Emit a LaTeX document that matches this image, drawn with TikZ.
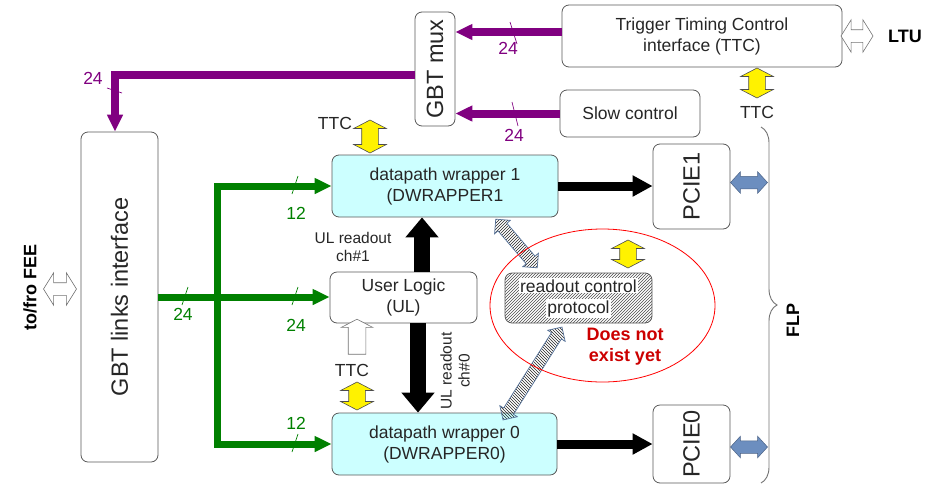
\documentclass[tikz,border=0pt]{standalone}
\usepackage{fontspec}
\usepackage{graphicx}
\setmainfont{Liberation Sans}
\usetikzlibrary{arrows.meta,shapes.arrows,patterns,decorations.pathreplacing}
\definecolor{gbtpurple}{RGB}{128,0,128}
\definecolor{gbtgreen}{RGB}{0,128,0}
\definecolor{wrapcyan}{RGB}{204,255,255}
\definecolor{pcieblue}{RGB}{108,142,191}
\definecolor{notred}{RGB}{204,0,0}
\setlength{\fboxsep}{1pt}

\begin{document}
\begin{tikzpicture}[x=1pt,y=-1pt,
  every node/.style={font=\fontsize{17.5}{21}\selectfont, text=black!85},
  box/.style={draw=black!65, rounded corners=7pt, line width=0.8pt, inner sep=0pt, align=center},
  wrapbox/.style={box, fill=wrapcyan},
  bigtext/.style={font=\fontsize{23.5}{27}\selectfont},
  smalltext/.style={font=\fontsize{15.5}{18}\selectfont, align=center},
  boldtext/.style={font=\fontsize{18}{21}\selectfont\bfseries, text=black},
  pbus/.style={draw=gbtpurple, line width=8pt, -{Triangle[length=17pt,width=15pt]}},
  gbus/.style={draw=gbtgreen, line width=7pt, -{Triangle[length=17pt,width=15pt]}},
  dbus/.style={draw=black, line width=9pt, -{Triangle[length=20pt,width=20pt]}},
  vbus/.style={draw=black, line width=16pt, -{Triangle[length=20pt,width=32pt]}},
  slash/.style={line width=0.7pt},
  yarrow/.style={double arrow, draw=black!70, fill=yellow, line width=0.6pt, rotate=90,
    inner xsep=0pt, inner ysep=8pt, double arrow head extend=8pt, double arrow tip angle=125, minimum width=0pt},
  oarrow/.style={double arrow, draw=black!55, fill=white, line width=0.6pt,
    inner xsep=0pt, inner ysep=6pt, double arrow head extend=10pt, double arrow tip angle=116, minimum width=0pt},
  barrow/.style={double arrow, draw=pcieblue!70!black, fill=pcieblue, line width=0.5pt,
    inner xsep=0pt, inner ysep=6pt, double arrow head extend=4.5pt, double arrow tip angle=95, minimum width=0pt},
  warrow/.style={single arrow, draw=black!55, fill=white, line width=0.6pt, rotate=90,
    inner xsep=0pt, inner ysep=8.5pt, single arrow head extend=7pt, single arrow tip angle=125, minimum width=0pt},
  harrow/.style={double arrow, draw=pcieblue!80!black, pattern color=black!85, line width=0.7pt,
    inner xsep=0pt, inner ysep=5.5pt, double arrow head extend=4.5pt, double arrow tip angle=90, minimum width=0pt}]
\useasboundingbox (0,0) rectangle (928,485);

\node[box, minimum width=40pt, minimum height=114pt, bigtext] (mux) at (435,69) {\rotatebox{90}{GBT mux}};
\node[box, minimum width=280pt, minimum height=62pt] (ttc) at (702,36) {Trigger Timing Control\\interface (TTC)};
\node[box, minimum width=140pt, minimum height=47pt] (slow) at (630,113.5) {Slow control};
\node[box, minimum width=77pt, minimum height=330pt, bigtext] (gbt) at (119.5,297) {\rotatebox{90}{GBT links interface}};
\node[wrapbox, minimum width=226pt, minimum height=62pt] (dw1) at (445,186) {datapath wrapper 1\\(DWRAPPER1};
\node[box, fill=white, minimum width=147pt, minimum height=51pt] (ul) at (403.5,297.5) {User Logic\\(UL)};
\node[wrapbox, minimum width=225pt, minimum height=62pt] (dw0) at (444.5,444) {datapath wrapper 0\\(DWRAPPER0)};
\node[box, pattern=north east lines, pattern color=black!70, minimum width=147pt, minimum height=50pt] (rcp) at (578.5,298)
  {\colorbox{white}{readout control}\\\colorbox{white}{protocol}};
\node[box, minimum width=77pt, minimum height=85pt, bigtext] (pcie1) at (691.5,186.5) {\rotatebox{90}{PCIE1}};
\node[box, minimum width=77pt, minimum height=78pt, bigtext] (pcie0) at (691.5,444) {\rotatebox{90}{PCIE0}};

\coordinate (pturn) at (115,75);
\draw[pbus] (ttc.west |- 0,32) -- (mux.east |- 0,32);
\draw[pbus] (slow.west) -- (slow.west -| mux.east);
\draw[pbus] (mux.west |- pturn) -- (pturn) -- (pturn |- gbt.north);
\draw[slash, gbtpurple] (510,22) -- (517,44);
\draw[slash, gbtpurple] (512,102) -- (518,126);
\draw[slash, gbtpurple] (107,88) -- (122,93);
\node[text=gbtpurple] (p1) at (508,48) {24};
\node[text=gbtpurple] (p2) at (514,135) {24};
\node[text=gbtpurple] (p3) at (93,78) {24};

\coordinate (split) at (217,297);
\draw[gbus] (gbt.east) -- (gbt.east -| ul.west);
\draw[gbus] (split) |- (dw1.west);
\draw[gbus] (split) |- (dw0.west);
\draw[slash, gbtgreen] (182,305) -- (188,287);
\draw[slash, gbtgreen] (292,194) -- (298,176);
\draw[slash, gbtgreen] (292,305) -- (298,287);
\draw[slash, gbtgreen] (292,452) -- (298,434);
\node[text=gbtgreen] (g1) at (183,314) {24};
\node[text=gbtgreen] (g2) at (296,213) {12};
\node[text=gbtgreen] (g3) at (296,325) {24};
\node[text=gbtgreen] (g4) at (296,423) {12};

\draw[dbus] (dw1.east) -- (pcie1.west |- dw1.east);
\draw[dbus] (dw0.east) -- (pcie0.west |- dw0.east);
\draw[vbus] (ul.north -| 422,0) -- (dw1.south -| 422,0);
\draw[vbus] (ul.south -| 418,0) -- (dw0.north -| 418,0);
\node[smalltext] (ul1) at (353,247) {UL readout\\ch\#1};
\node[smalltext, rotate=90] (ul0) at (455,371) {UL readout\\ch\#0};

\node (ttcA) at (335,123) {TTC};
\node (ttcB) at (352,370) {TTC};
\node (ttcC) at (757,112) {TTC};
\node[yarrow, minimum height=33pt] (y1) at (370,136.5) {};
\node[yarrow, minimum height=28pt] (y2) at (357,396) {};
\node[yarrow, minimum height=30pt] (y3) at (757,83) {};
\node[yarrow, minimum height=28pt] (y4) at (628,254) {};
\node[warrow, minimum height=35pt] (w1) at (357,339) {};

\node[oarrow, minimum height=32pt] (ltuarr) at (857,36) {};
\node[boldtext] (ltu) at (905,36) {LTU};
\node[oarrow, minimum height=33pt] (feearr) at (60,289) {};
\node[boldtext] (fee) at (30,287) {\rotatebox{90}{to/fro FEE}};
\node[barrow, minimum height=37pt] (b1) at (749,182.5) {};
\node[barrow, minimum height=37pt] (b0) at (749,447) {};

\node[harrow, pattern=north east lines, minimum height=64pt, rotate=-49.5] (h1) at (516.5,243.5) {};
\node[harrow, pattern=north west lines, minimum height=110pt, rotate=57.6] (h0) at (532.5,373.5) {};

\draw[red, line width=0.8pt] (602.5,305.5) ellipse [x radius=112.5, y radius=76.5];
\node[boldtext, text=notred, align=center] (dne) at (625,347) {Does not\\exist yet};

\draw[black!55, line width=0.9pt, decorate, decoration={brace, amplitude=16pt}] (761,127) -- (761,483);
\node[boldtext] (flp) at (793,320) {\rotatebox{90}{FLP}};
\end{tikzpicture}
\end{document}
